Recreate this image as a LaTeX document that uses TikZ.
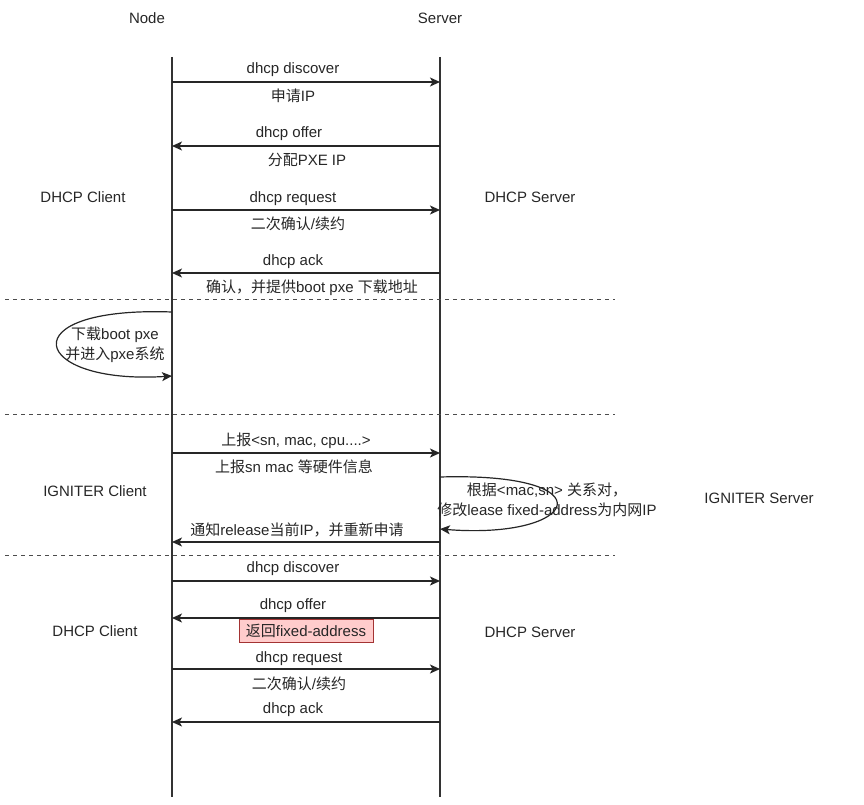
\documentclass[tikz,border=0pt]{standalone}
\usepackage{fontspec}
\setmainfont{Liberation Sans}
\newfontfamily\cjk{Noto Sans CJK SC}
\usetikzlibrary{arrows.meta}
\newcommand\zh[1]{{\cjk #1}}
\begin{document}
\begin{tikzpicture}[x=1pt,y=-1pt,
  every node/.style={font=\fontsize{15}{18}\selectfont, inner sep=0pt, text=black!85},
  tx/.style={yshift=-1.5pt},
  life/.style={draw=black!80, line width=1.3pt},
  msg/.style={draw=black!85, line width=1.2pt, -{Stealth[length=10pt,width=9pt,inset=2.5pt]}},
  sep/.style={draw=black!70, line width=1pt, dash pattern=on 4pt off 4pt},
  hl/.style={draw=red!55!black!80, fill=red!20!white, line width=0.8pt, inner xsep=7pt, inner ysep=5pt}]
\path[use as bounding box] (0,0) rectangle (864,805);
% headers
\node[tx] (node) at (147,17) {Node};
\node[tx] (server) at (440,17) {Server};
\coordinate (ltop) at (172,57);
\coordinate (lbot) at (172,797);
\coordinate (rtop) at (440,57);
\coordinate (rbot) at (440,797);
\draw[life] (ltop) -- (lbot);
\draw[life] (rtop) -- (rbot);
% separators
\coordinate (d1a) at (5,299); \coordinate (d1b) at (615,299);
\coordinate (d2a) at (5,414); \coordinate (d2b) at (615,414);
\coordinate (d3a) at (5,555); \coordinate (d3b) at (615,555);
\draw[sep] (d1a) -- (d1b);
\draw[sep] (d2a) -- (d2b);
\draw[sep] (d3a) -- (d3b);
% side labels
\node[tx] (dc1) at (83,196) {DHCP Client};
\node[tx] (ds1) at (530,196) {DHCP Server};
\node[tx] (ic) at (95,490) {IGNITER Client};
\node[tx] (is) at (759,497) {IGNITER Server};
\node[tx] (dc2) at (95,630) {DHCP Client};
\node[tx] (ds2) at (530,631) {DHCP Server};
% message endpoints
\foreach \i/\y in {1/82,2/146,3/210,4/273,5/453,6/542,7/581,8/618,9/669,10/722}{
  \coordinate (c\i) at (172,\y);
  \coordinate (s\i) at (440,\y);
}
\draw[msg] (c1) -- (s1);
\draw[msg] (s2) -- (c2);
\draw[msg] (c3) -- (s3);
\draw[msg] (s4) -- (c4);
\draw[msg] (c5) -- (s5);
\draw[msg] (s6) -- (c6);
\draw[msg] (c7) -- (s7);
\draw[msg] (s8) -- (c8);
\draw[msg] (c9) -- (s9);
\draw[msg] (s10) -- (c10);
% labels
\node[tx] (t1a) at (293,68) {dhcp discover};
\node[tx] (t1b) at (293,94) {\zh{申请}IP};
\node[tx] (t2a) at (289,132) {dhcp offer};
\node[tx] (t2b) at (307,158) {\zh{分配}PXE IP};
\node[tx] (t3a) at (293,197) {dhcp request};
\node[tx] (t3b) at (298,222) {\zh{二次确认}/\zh{续约}};
\node[tx] (t4a) at (293,260) {dhcp ack};
\node[tx] (t4b) at (312,286) {\zh{确认，并提供}boot pxe \zh{下载地址}};
\node[tx] (t5a) at (296,439) {\zh{上报}<sn, mac, cpu....>};
\node[tx] (t5b) at (294,465) {\zh{上报}sn mac \zh{等硬件信息}};
\node[tx] (t6) at (297,528) {\zh{通知}release\zh{当前}IP\zh{，并重新申请}};
\node[tx] (t7) at (293,567) {dhcp discover};
\node[tx] (t8) at (293,604) {dhcp offer};
\node[hl] (t8b) at (306,631) {\zh{返回}fixed-address};
\node[tx] (t9a) at (299,657) {dhcp request};
\node[tx] (t9b) at (299,682) {\zh{二次确认}/\zh{续约}};
\node[tx] (t10) at (293,708) {dhcp ack};
% self loops
\coordinate (la) at (172,312);
\coordinate (lb) at (172,376);
\draw[msg] (la) .. controls (8,306) and (30,385) .. (lb);
\node[tx,align=center] (lt) at (115,343) {\zh{下载}boot pxe\\[2pt]\zh{并进入}pxe\zh{系统}};
\coordinate (ra) at (440,477);
\coordinate (rb) at (440,529);
\draw[msg] (ra) .. controls (610,472) and (580,540) .. (rb);
\node[tx,align=center] (rt) at (547,498) {\zh{根据}<mac,sn> \zh{关系对，}\\[2pt]\zh{修改}lease fixed-address\zh{为内网}IP};
\end{tikzpicture}
\end{document}
